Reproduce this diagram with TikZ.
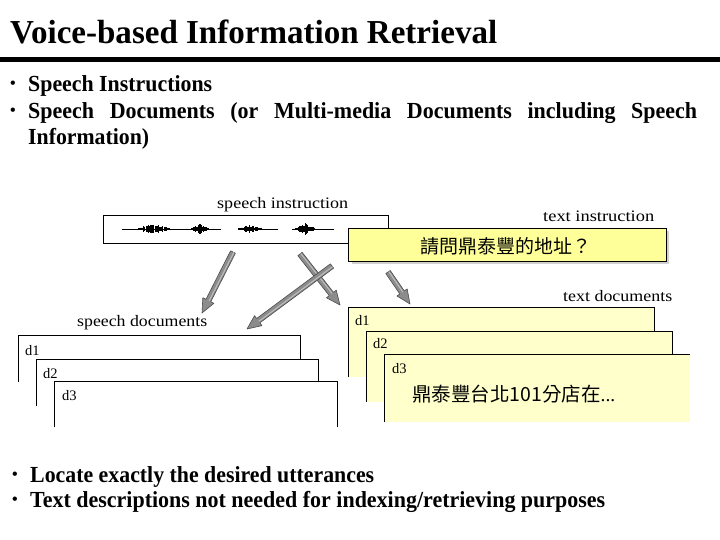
\documentclass[tikz,border=0pt]{standalone}
\usepackage{graphicx}
\usepackage{fontspec}
\setmainfont{Liberation Serif}
\newfontfamily\cjk{Noto Sans CJK TC}
\usetikzlibrary{calc}
\definecolor{instrY}{HTML}{FFFF99}
\definecolor{docY}{HTML}{FFFFCC}
\newcommand\fitw[2]{\resizebox{#1}{\height}{#2}}
\newcommand\fatarrow[2]{%
  \coordinate (hh) at ($(#2)!14pt!(#1)$);
  \filldraw[arrowbody] ($(#1)!2.7pt!90:(#2)$) -- ($(hh)!2.7pt!-90:(#1)$) -- ($(hh)!6.2pt!-90:(#1)$) -- (#2)
    -- ($(hh)!6.2pt!90:(#1)$) -- ($(hh)!2.7pt!90:(#1)$) -- ($(#1)!2.7pt!-90:(#2)$) -- cycle;
  \draw[arrowlight] ($(#1)!0.9pt!90:(#2)$) -- ($(hh)!0.9pt!-90:(#1)$);}
\tikzset{
  txt/.style={anchor=base west, inner sep=0pt, font=\fontsize{23}{25}\selectfont\bfseries},
  bul/.style={anchor=base west, inner sep=0pt, font=\fontsize{16}{18}\selectfont\bfseries},
  lab/.style={anchor=base west, inner sep=0pt, font=\fontsize{16}{18}\selectfont},
  dlab/.style={anchor=base west, inner sep=0pt, font=\fontsize{14.5}{16}\selectfont},
  arrowbody/.style={fill=black!45, draw=black!70, line width=0.6pt, line join=round},
  arrowlight/.style={draw=black!25, line width=1pt},
  card/.style={draw=black, line width=0.8pt},
}
\begin{document}
\begin{tikzpicture}[x=1pt,y=-1pt]
\useasboundingbox (0,0) rectangle (720,540);
\fill[white] (0,0) rectangle (720,540);
% title
\node[anchor=base west, inner sep=0pt, font=\fontsize{33.5}{36}\selectfont\bfseries] (title) at (10,44) {\fitw{487pt}{Voice-based Information Retrieval}};
\draw[line width=5pt] (0,59.5) -- (720,59.5);
% top bullets
\node[bul] (bu1) at (10,89) {•};
\node[txt] (t1) at (28,92) {\fitw{184pt}{Speech Instructions}};
\node[bul] (bu2) at (10,116) {•};
\node[txt] (t2) at (28,119) {\resizebox{669pt}{\height}{\makebox[700pt][s]{Speech Documents (or Multi-media Documents including Speech}}};
\node[txt] (t3) at (28,145) {\fitw{121pt}{Information)}};
% speech instruction
\node[lab] (lsi) at (217,208) {\fitw{131pt}{speech instruction}};
\draw[card, fill=white] (103,215) rectangle (388,243);
\draw[line width=0.6pt] (122,229) -- (221,229) (238,229) -- (278,229) (292,229) -- (334,229);
\pgfmathsetseed{7}
\foreach \c/\w/\a in {154/16/6, 200/9/4.5, 250/12/3.5, 305/10/6}{
  \foreach \i in {-1,-0.93,...,1}{
    \pgfmathsetmacro\xx{\c+\i*\w}
    \pgfmathsetmacro\hh{\a*(1-abs(\i))*(0.3+0.7*rnd)+0.6}
    \draw[line width=0.5pt] (\xx,229-\hh) -- (\xx,229+\hh);
  }
}
% text instruction
\node[lab] (lti) at (543,222) {\fitw{111pt}{text instruction}};
\fill[black!18] (352,231) rectangle (669,264);
\draw[card, fill=instrY] (348,228) rectangle (666,261);
\node[inner sep=0pt, font=\cjk\fontsize{19}{21}\selectfont] (q) at (506,246) {請問鼎泰豐的地址？};
% arrows
\coordinate (a1s) at (233,252); \coordinate (a1e) at (202,313);
\coordinate (a2s) at (332,266); \coordinate (a2e) at (247,329);
\coordinate (a3s) at (300,254); \coordinate (a3e) at (340,305);
\coordinate (a4s) at (388,272); \coordinate (a4e) at (410,304);
\fatarrow{a1s}{a1e}
\fatarrow{a3s}{a3e}
\fatarrow{a2s}{a2e}
\fatarrow{a4s}{a4e}
% speech documents
\node[lab] (lsd) at (77,326) {\fitw{130pt}{speech documents}};
\fill[white] (18,335) rectangle (300,382);
\draw[card] (18,382) -- (18,335) -- (300,335) -- (300,382);
\node[dlab] (sd1) at (25,355) {d1};
\fill[white] (36,359) rectangle (318,406);
\draw[card] (36,406) -- (36,359) -- (318,359) -- (318,406);
\node[dlab] (sd2) at (43,378) {d2};
\fill[white] (54,381) rectangle (337,427);
\draw[card] (54,427) -- (54,381) -- (337,381) -- (337,427);
\node[dlab] (sd3) at (62,400) {d3};
% text documents
\node[lab] (ltd) at (563,301) {\fitw{109pt}{text documents}};
\fill[docY] (348,307) rectangle (654,377);
\draw[card] (348,377) -- (348,307) -- (654,307) -- (654,377);
\node[dlab] (td1) at (355,325) {d1};
\fill[docY] (366,331) rectangle (672,402);
\draw[card] (366,402) -- (366,331) -- (672,331) -- (672,402);
\node[dlab] (td2) at (373,348) {d2};
\fill[docY] (384,354) rectangle (690,422);
\draw[card] (384,422) -- (384,354) -- (690,354);
\node[dlab] (td3) at (392,373) {d3};
\node[anchor=west, inner sep=0pt, font=\cjk\fontsize{19.5}{21}\selectfont] (dtext) at (412,394) {鼎泰豐台北101分店在{\rmfamily\fontsize{19.5}{21}\selectfont...}};
% bottom bullets
\node[bul] (bu4) at (12,479) {•};
\node[txt] (t4) at (30,482) {\fitw{344pt}{Locate exactly the desired utterances}};
\node[bul] (bu5) at (12,504) {•};
\node[txt] (t5) at (30,507) {\fitw{575pt}{Text descriptions not needed for indexing/retrieving purposes}};
\end{tikzpicture}
\end{document}
